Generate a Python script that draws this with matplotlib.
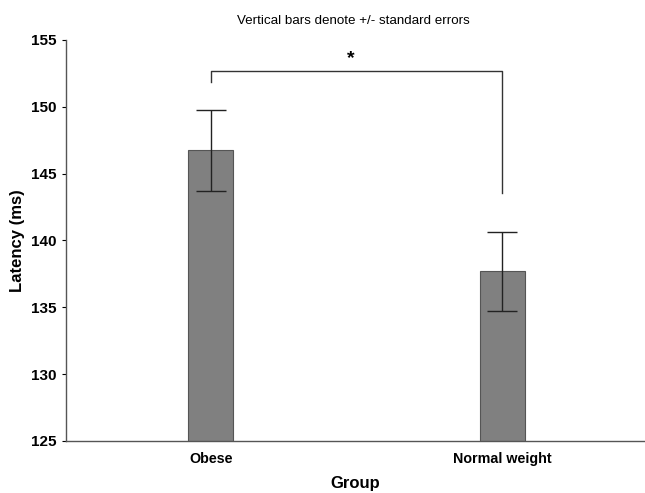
import matplotlib
matplotlib.use("Agg")
import matplotlib.pyplot as plt

plt.rcParams['font.family'] = ['Liberation Sans', 'DejaVu Sans']

groups = ["Obese", "Normal weight"]
latency = [146.75, 137.7]
sem = [3.03, 2.95]
bracket_y = 152.7
bracket_left_end = 151.85
bracket_right_end = 143.55
yticks = [125, 130, 135, 140, 145, 150, 155]

fig = plt.figure(figsize=(6.45, 4.93), dpi=100)
ax = fig.add_axes([0.102, 0.1055, 0.898, 0.8135])

x = list(range(len(groups)))
ax.bar(x, latency, width=0.154, color="#808080", edgecolor="#555555", linewidth=0.8, zorder=2)
ax.errorbar(x, latency, yerr=sem, fmt="none", ecolor="#222222", elinewidth=1.0,
            capsize=10.8, capthick=1.0, zorder=3)

# significance bracket
ax.plot([x[0], x[0], x[1], x[1]],
        [bracket_left_end, bracket_y, bracket_y, bracket_right_end],
        color="#333333", linewidth=1.0, clip_on=False)
ax.text((x[0] + x[1]) / 2 - 0.02, bracket_y + 0.3, "*", ha="center", va="bottom",
        fontsize=14, fontweight="bold")

ax.set_xlim(-0.497, 1.49)
ax.set_ylim(125, 155)
ax.set_yticks(yticks)
ax.set_xticks(x)
ax.set_xticklabels(groups, fontsize=10.3, fontweight="bold")
for lab in ax.get_yticklabels():
    lab.set_fontweight("bold")
    lab.set_fontsize(11)
ax.tick_params(axis="x", direction="in", length=3, pad=8)
ax.tick_params(axis="y", direction="out", length=3, pad=4)

for s in ["top", "right"]:
    ax.spines[s].set_visible(False)
for s in ["left", "bottom"]:
    ax.spines[s].set_color("#555555")
    ax.spines[s].set_linewidth(1.0)

ax.set_ylabel("Latency (ms)", fontsize=12, fontweight="bold", va="center")
ax.yaxis.set_label_coords(-0.083, 0.5)
ax.set_xlabel("Group", fontsize=12, fontweight="bold", va="center")
ax.xaxis.set_label_coords(0.5, -0.105)
fig.text(0.548, 0.958, "Vertical bars denote +/- standard errors", ha="center", va="center",
         fontsize=9.6)

fig.savefig("out.png", dpi=100)
